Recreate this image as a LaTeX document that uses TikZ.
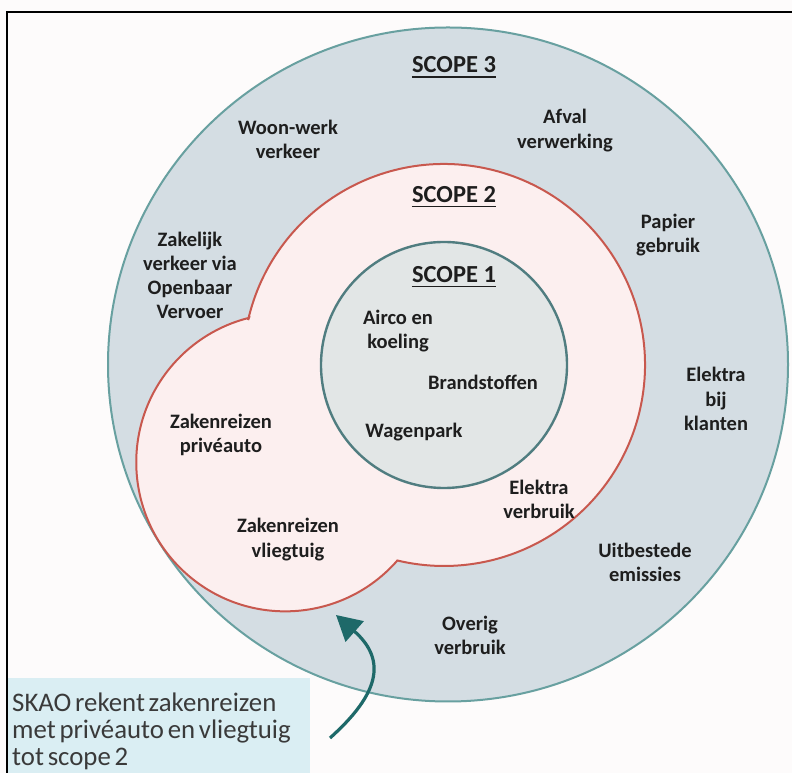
\documentclass[tikz,border=0pt]{standalone}
\usepackage{fontspec}
\setmainfont{Carlito}
\usetikzlibrary{arrows.meta}
\definecolor{bgcol}{RGB}{253,251,251}
\definecolor{outerfill}{RGB}{212,221,227}
\definecolor{outerline}{RGB}{104,160,160}
\definecolor{midfill}{RGB}{252,239,239}
\definecolor{midline}{RGB}{200,88,78}
\definecolor{innerfill}{RGB}{226,230,230}
\definecolor{innerline}{RGB}{80,125,128}
\definecolor{calloutfill}{RGB}{218,238,243}
\definecolor{arrowcol}{RGB}{30,105,105}
\definecolor{labeltext}{RGB}{30,30,30}
\definecolor{callouttext}{RGB}{58,58,58}
\newcommand{\mytightspaces}{\spaceskip=0.14em plus 0.05em\relax}
\begin{document}
\begin{tikzpicture}[x=1pt,y=1pt,
  lbl/.style={align=center,text=labeltext,inner sep=0pt,
    font=\fontsize{20.5}{24.2}\selectfont\bfseries},
  scopelbl/.style={inner sep=0pt,text=labeltext,anchor=base,
    font=\fontsize{24.5}{29}\selectfont\bfseries},
  uline/.style={draw=labeltext,line width=1.8pt},
  callout/.style={fill=calloutfill,text=callouttext,align=left,
    anchor=south west,minimum width=302pt,minimum height=107pt,
    text width=294pt,inner xsep=4pt,inner ysep=0pt,
    font=\fontsize{26.8}{27}\selectfont},
  arrowline/.style={draw=arrowcol,line width=3.2pt,
    -{Triangle[length=25pt,width=27pt]}}
]
\useasboundingbox (0,0) rectangle (792,773);
\fill[bgcol] (0,0) rectangle (792,773);
% frame
\draw[line width=1.6pt,black] (7,0) -- (7,761) -- (792,761);

% scope 3 (outer)
\filldraw[fill=outerfill,draw=outerline,line width=2pt]
  (448,408.5) ellipse [x radius=340pt, y radius=337pt];
% scope 2 (red, with bulge)
\filldraw[fill=midfill,draw=midline,line width=2pt]
  (444,408) ++(167.07:201pt)
  arc[start angle=167.07, end angle=-103.42, radius=201pt]
  arc[start angle=-41.2, end angle=-255.9, radius=149pt]
  -- cycle;
% scope 1
\filldraw[fill=innerfill,draw=innerline,line width=2.4pt]
  (444,408) circle [radius=123pt];

% scope titles
\node[scopelbl] (s3) at (454,700) {SCOPE 3};
\node[scopelbl] (s2) at (454,570.5) {SCOPE 2};
\node[scopelbl] (s1) at (454,490.5) {SCOPE 1};
\foreach \s in {s1,s2,s3}
  \draw[uline] ([yshift=-4pt]\s.base west) -- ([yshift=-4pt]\s.base east);

% labels
\node[lbl] (woon) at (288,633.5) {Woon-werk\\verkeer};
\node[lbl] (afval) at (565,642.5) {Afval\\verwerking};
\node[lbl] (papier) at (668,538) {Papier\\gebruik};
\node[lbl] (zakelijk) at (190,497.5) {Zakelijk\\verkeer via\\Openbaar\\Vervoer};
\node[lbl] (airco) at (398,442) {Airco en\\koeling};
\node[lbl] (brand) at (483,391) {Brandstoffen};
\node[lbl] (elekklant) at (716,374) {Elektra\\bij\\klanten};
\node[lbl] (wagen) at (414,341) {Wagenpark};
\node[lbl] (zakauto) at (221,338) {Zakenreizen\\privéauto};
\node[lbl] (elekverb) at (539,274) {Elektra\\verbruik};
\node[lbl] (zakvlieg) at (288,233.5) {Zakenreizen\\vliegtuig};
\node[lbl] (uitbest) at (645,211) {Uitbestede\\emissies};
\node[lbl] (overig) at (470,138) {Overig\\verbruik};

% callout
\node[callout] (note) at (8,-12) {\mytightspaces SKAO rekent zakenreizen\\met privéauto en vliegtuig\\tot scope 2};
\coordinate (tail) at (330,35);
\coordinate (tip) at (336,158);
\draw[arrowline] (tail) .. controls (378,78) and (388,112) .. (tip);
\end{tikzpicture}
\end{document}
